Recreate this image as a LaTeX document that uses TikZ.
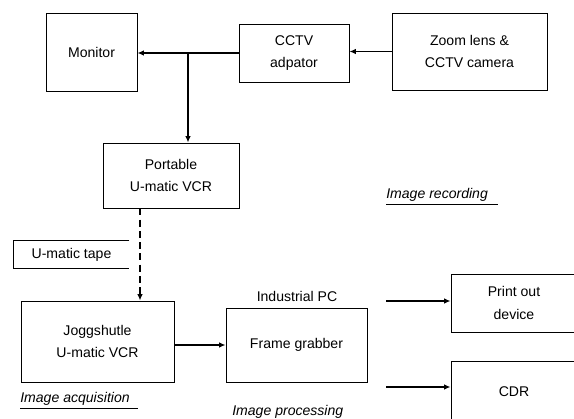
\documentclass[tikz,border=0pt]{standalone}
\usepackage{fontspec}
\setmainfont{Liberation Sans}
\usetikzlibrary{positioning,arrows.meta}

\begin{document}
\begin{tikzpicture}[x=0.025cm,y=-0.025cm,every node/.style={align=center,font=\fontsize{10}{16}\selectfont},box/.style={draw,line width=0.6pt,inner sep=0pt},conn/.style={line width=1.1pt,-{Latex[length=4.5pt,width=3.8pt]}},tag/.style={font=\fontsize{10}{12}\selectfont\itshape,anchor=base west,inner sep=0pt}]
\useasboundingbox (0,0) rectangle (574,419);
% image recording
\node[box,minimum width=2.275cm,minimum height=1.95cm] (monitor) at (91.5,52) {Monitor};
\node[box,minimum width=2.75cm,minimum height=1.45cm] (adaptor) at (294,53) {CCTV\\adpator};
\node[box,minimum width=3.875cm,minimum height=1.925cm] (camera) at (469.5,51.5) {Zoom lens \&\\CCTV camera};
\node[box,minimum width=3.4cm,minimum height=1.625cm] (portable) at (171,175.5) {Portable\\U-matic VCR};
% image acquisition
\node[minimum width=2.875cm,minimum height=0.675cm,inner sep=0pt] (tape) at (71.5,254.5) {U-matic tape};
\draw[line width=0.6pt] (tape.north east) -- (tape.north west) -- (tape.south west) -- (tape.south east);
\node[box,minimum width=3.825cm,minimum height=2.025cm] (jogg) at (97.5,341.5) {Joggshutle\\U-matic VCR};
% image processing
\node[box,minimum width=3.525cm,minimum height=1.85cm] (grabber) at (296.5,345) {Frame grabber};
\node (pclabel) at (297,296) {Industrial PC};
\node[box,minimum width=3.15cm,minimum height=1.45cm] (print) at (514,303) {Print out\\device};
\node[box,minimum width=3.15cm,minimum height=1.525cm] (cdr) at (514,391.5) {CDR};
\coordinate (split) at (188,53);
\coordinate (printout) at (386,301);
\coordinate (cdrout) at (386,387);
\draw[conn] (camera.west) -- (camera.west -| adaptor.east);
\draw[conn] (adaptor.west) -- (adaptor.west -| monitor.east);
\draw[conn] (split) -- (split |- portable.north);
\draw[conn,dash pattern=on 5pt off 3pt] (140,0 |- portable.south) -- (140,0 |- jogg.north);
\draw[conn] (jogg.east |- grabber.west) -- (grabber.west);
\draw[conn] (printout) -- (printout -| print.west);
\draw[conn] (cdrout) -- (cdrout -| cdr.west);
% stage labels
\node[tag] (recording) at (386,199) {\underline{Image recording\hspace{7pt}}};
\node[tag] (acquisition) at (20,403) {\underline{Image acquisition\hspace{6pt}}};
\node[tag] (processing) at (232,416) {Image processing};
\end{tikzpicture}
\end{document}
